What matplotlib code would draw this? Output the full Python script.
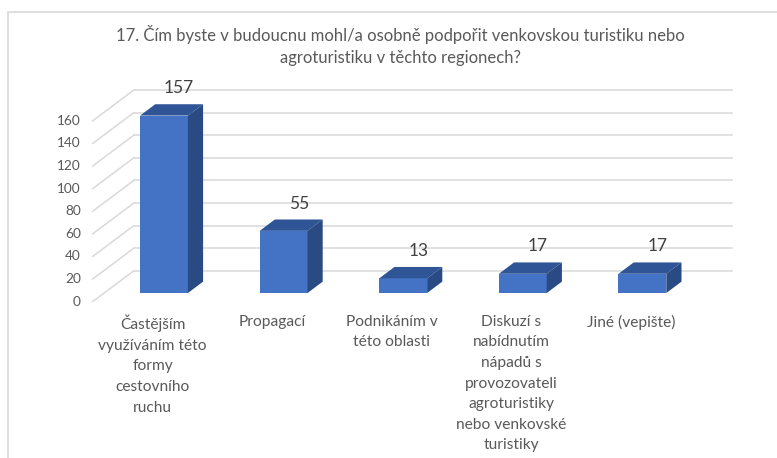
import matplotlib
matplotlib.use('Agg')
import matplotlib.pyplot as plt
from matplotlib.patches import Polygon, Rectangle
import matplotlib.lines as mlines

# data
categories = [
    'Častějším\nvyužíváním této\nformy\ncestovního\nruchu',
    'Propagací',
    'Podnikáním v\ntéto oblasti',
    'Diskuzí s\nnabídnutím\nnápadů s\nprovozovateli\nagroturistiky\nnebo venkovské\nturistiky',
    'Jiné (vepište)',
]
values = [157, 55, 13, 17, 17]
yticks = [0, 20, 40, 60, 80, 100, 120, 140, 160]
title = ('17. Čím byste v budoucnu mohl/a osobně podpořit venkovskou turistiku nebo\n'
         'agroturistiku v těchto regionech?')

# colours
front = '#4472c4'
top = '#2f5597'
side = '#294a82'
grid = '#d9d9d9'
textGrey = '#595959'

plt.rcParams['font.family'] = ['Lato', 'DejaVu Sans']

W, H = 777, 458
fig = plt.figure(figsize=(W / 100, H / 100), dpi=100)

# axes in the plane of the bar fronts, pixel mapping
x0, xstep = 164, 119.6
y0, yscale = 293, 1.13
ax = fig.add_axes([0, 0, 1, 1])
ax.set_xlim(-x0 / xstep, (W - x0) / xstep)
ax.set_ylim((y0 - H) / yscale, y0 / yscale)
ax.axis('off')

# depth of the box (front wall d=0, back wall d=1)
DX = 41 / xstep
DV = 30.7 / yscale
d0, d1 = 0.28, 0.65


def P(x, v, d):
    return (x + DX * (d - d0), v + DV * (d - d0))


# frame
fig.patches.append(Rectangle((8 / W, -0.1), 1.2, 1.1 - 11.5 / H,
                             transform=fig.transFigure, fill=False,
                             edgecolor=grid, lw=1.2))

# walls
xl, xr = -0.5, len(values) - 0.5
for v in yticks:
    a, b = P(xl, v, 1), P(xr, v, 1)
    ax.add_line(mlines.Line2D([a[0], b[0]], [a[1], b[1]], color=grid, lw=1.1))
    a, b = P(xl, v, 0), P(xl, v, 1)
    ax.add_line(mlines.Line2D([a[0], b[0]], [a[1], b[1]], color=grid, lw=1.1))
    p = P(xl, v, 0)
    ax.annotate(str(v), p, xytext=(-8.5, 0), textcoords='offset points',
                ha='right', va='center', fontsize=9.8, color=textGrey)

# bars
bw = 0.4
ax.bar(range(len(values)), values, width=bw, color=front, zorder=3)
for i, v in enumerate(values):
    l, r = i - bw / 2, i + bw / 2
    topFace = [P(l, v, d0), P(r, v, d0), P(r, v, d1), P(l, v, d1)]
    sideFace = [P(r, 0, d0), P(r, v, d0), P(r, v, d1), P(r, 0, d1)]
    ax.add_patch(Polygon(topFace, closed=True, facecolor=top, edgecolor='none', zorder=3))
    ax.add_patch(Polygon(sideFace, closed=True, facecolor=side, edgecolor='none', zorder=3))
    ax.annotate(str(v), P(i, v, d1), xytext=(0, 11.5), textcoords='offset points',
                ha='center', va='center', fontsize=12.5, color='#404040')
    ax.annotate(categories[i], P(i, 0, 0), xytext=(0, -9.5), textcoords='offset points',
                ha='center', va='top', fontsize=11.2, color=textGrey, linespacing=1.6)

fig.text(400 / W, 1 - 25 / H, title, ha='center', va='top', fontsize=12,
         color=textGrey, linespacing=1.45)

fig.savefig('out.png', dpi=100)
